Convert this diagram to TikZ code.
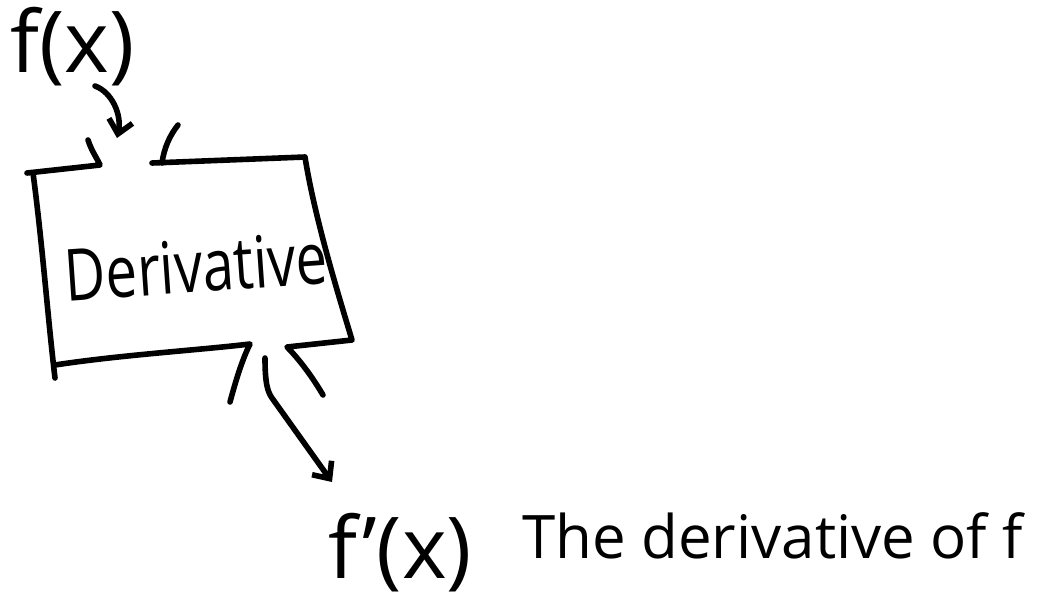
\documentclass[tikz,border=0pt]{standalone}
\usepackage{fontspec}
\setmainfont{Open Sans}
\usetikzlibrary{arrows.meta}
\tikzset{
  ink/.style={line width=4.2pt, line cap=round, line join=round, black},
  hand/.style={inner sep=0pt, font=#1},
  barb/.style={-{Straight Barb[length=10pt,width=18pt,line width=4.2pt]}}
}
\begin{document}
\begin{tikzpicture}[x=0.75pt,y=-0.75pt]
\useasboundingbox (0,0) rectangle (1042,604);
% text
\node[hand={\fontsize{64}{64}\selectfont}, anchor=base west] (fx) at (10,72) {f(x)};
\node[hand={\fontsize{54}{54}\selectfont}, rotate=4, xscale=0.78] (deriv) at (196,266) {Derivative};
\node[hand={\fontsize{64}{64}\selectfont}, anchor=base west] (fpx) at (328,578) {f'(x)};
\node[hand={\fontsize{45}{45}\selectfont}, anchor=base west] (desc) at (522,558) {The derivative of f};
% box
\coordinate (instart) at (95,86);
\coordinate (in) at (117,138);
\coordinate (outstart) at (265,358);
\coordinate (outend) at (332,482);
\draw[ink] (88,140) .. controls (92,152) and (97,158) .. (100,165)
  -- (27,173);
\draw[ink] (33,173) .. controls (42,240) and (48,320) .. (55,378);
\draw[ink] (55,365) .. controls (120,355) and (200,350) .. (250,344)
  .. controls (242,360) and (236,380) .. (230,402);
\draw[ink] (323,395) .. controls (313,378) and (300,360) .. (287,347)
  -- (352,340) .. controls (340,300) and (315,220) .. (305,157)
  -- (152,163);
\draw[ink] (162,163) .. controls (164,148) and (170,135) .. (178,125);
% arrows
\draw[ink, barb] (instart) .. controls (112,92) and (122,115) .. (in);
\draw[ink, barb] (outstart) .. controls (265,385) and (268,392) .. (272,398) -- (outend);
\end{tikzpicture}
\end{document}
